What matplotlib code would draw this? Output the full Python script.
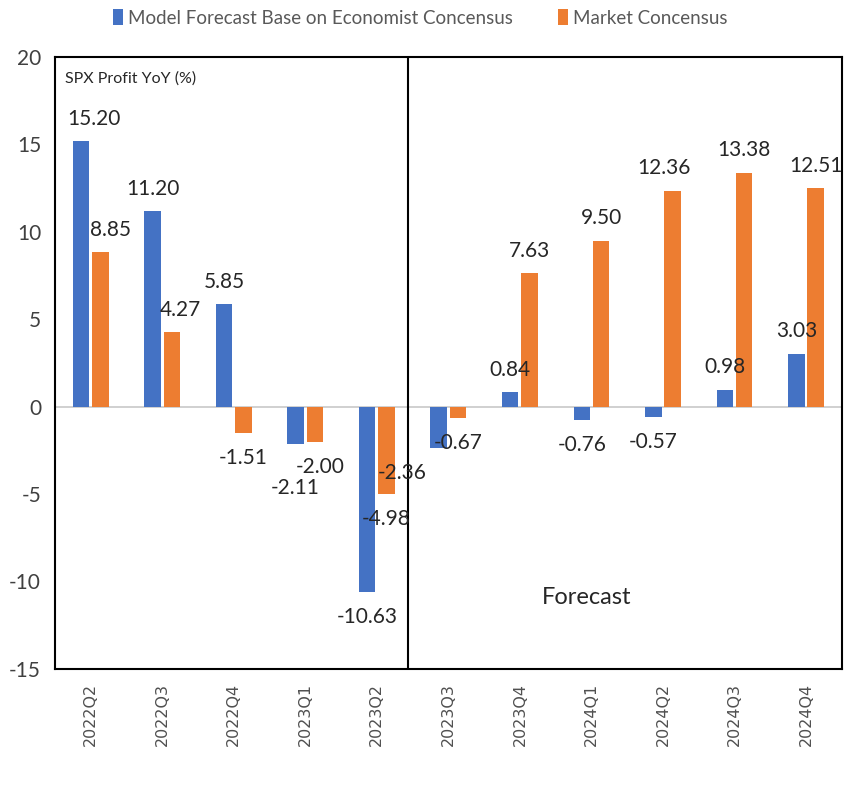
import numpy as np
import matplotlib.pyplot as plt

# SPX profit growth: model forecast vs market consensus
quarters = ['2022Q2', '2022Q3', '2022Q4', '2023Q1', '2023Q2', '2023Q3',
            '2023Q4', '2024Q1', '2024Q2', '2024Q3', '2024Q4']
model = [15.20, 11.20, 5.85, -2.11, -10.63, -2.36, 0.84, -0.76, -0.57, 0.98, 3.03]
market = [8.85, 4.27, -1.51, -2.00, -4.98, -0.67, 7.63, 9.50, 12.36, 13.38, 12.51]

plt.rcParams['font.family'] = ['Lato', 'DejaVu Sans']
plt.rcParams['axes.unicode_minus'] = False

blue = '#4472C4'
orange = '#ED7D31'

fig = plt.figure(figsize=(8.46, 7.86), dpi=100)
ax = fig.add_axes([0.065, 0.149, 0.93, 0.7785])

x = np.arange(len(quarters))
w = 0.23
off = 0.135
ax.bar(x - off, model, w, color=blue, label='Model Forecast Base on Economist Concensus', zorder=3)
ax.bar(x + off, market, w, color=orange, label='Market Concensus', zorder=3)

ax.axhline(0, color='#c8c8c8', lw=1.2, zorder=1)
ax.axvline(4.43, color='black', lw=1.5, zorder=2)

ax.set_xlim(-0.5, len(quarters) - 0.5)
ax.set_ylim(-15, 20)
ax.set_yticks(range(-15, 21, 5))
ax.set_xticks(x)
ax.set_xticklabels(quarters, rotation=90, family='DejaVu Sans', fontsize=11.5, color='#505050')
ax.tick_params(axis='y', labelsize=15, colors='#404040', length=0, pad=10)
ax.tick_params(axis='x', length=0, pad=10)
for s in ax.spines.values():
    s.set_color('black')
    s.set_linewidth(1.5)

# value labels; a few are nudged sideways/down where they collide
nudge_m = {0: (9, 0), 3: (0, -14), 5: (-26, 0)}
nudge_k = {0: (7, 0), 1: (6, 0), 3: (4, 0), 8: (-6, 0)}
for i in range(len(quarters)):
    for vals, sign, nud in ((model, -1, nudge_m), (market, 1, nudge_k)):
        v = vals[i]
        dx, dy = nud.get(i, (0, 0))
        ax.annotate(f'{v:.2f}', (x[i] + sign * off, v),
                    xytext=(dx, (16 if v >= 0 else -18) + dy), textcoords='offset points',
                    ha='center', va='center', fontsize=15, color='#262626', zorder=4)

ax.text(0.013, 0.965, 'SPX Profit YoY (%)', transform=ax.transAxes, fontsize=11.5,
        color='#262626', va='center')
ax.text(6.93, -10.9, 'Forecast', fontsize=17, color='#262626', ha='center', va='center')

fig.legend(loc='center', bbox_to_anchor=(0.497, 0.977), ncol=2, frameon=False, fontsize=13.5,
           handlelength=0.5, handleheight=0.9, handletextpad=0.3, columnspacing=2.4,
           labelcolor='#595959')

fig.savefig('out.png', dpi=100)
